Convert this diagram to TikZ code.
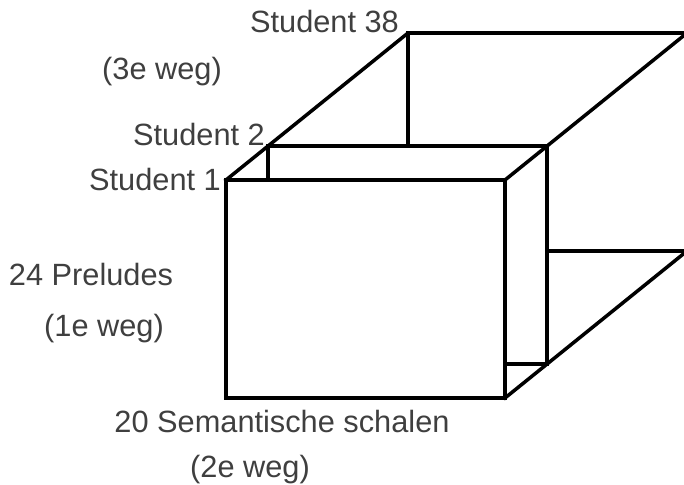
\documentclass[tikz,border=0pt]{standalone}
\usepackage{fontspec}
\setmainfont{Liberation Sans}
\usepackage{tikz}
\usetikzlibrary{positioning, calc}
\usepackage{xcolor}
\definecolor{labelgray}{HTML}{3F3F3F}

\begin{document}
\begin{tikzpicture}[
        edge/.style={line width=2pt, line join=miter, line cap=rect},
        lbl/.style={font=\fontsize{17.5}{21}\selectfont, text=labelgray, inner sep=0pt, anchor=base}
    ]

        \useasboundingbox (0,0) rectangle (13.68,9.7);
        \clip (0,0) rectangle (13.68,9.7);

        % front slice (student 1)
        \coordinate (s1_tl) at (4.52, 6.10);
        \coordinate (s1_tr) at (10.10, 6.10);
        \coordinate (s1_br) at (10.10, 1.74);
        \coordinate (s1_bl) at (4.52, 1.74);

        % second slice (student 2)
        \coordinate (s2_tl) at (5.36, 6.78);
        \coordinate (s2_tr) at (10.94, 6.78);
        \coordinate (s2_br) at (10.94, 2.42);

        % back slice (student 38)
        \coordinate (s38_tl) at (8.16, 9.04);
        \coordinate (s38_tr) at (13.74, 9.04);
        \coordinate (s38_br) at (13.74, 4.68);

        \draw[edge] (s1_tl) -- (s1_tr) -- (s1_br) -- (s1_bl) -- cycle;

        \draw[edge] (s1_tl) -- (s38_tl) -- (s38_tr);
        \draw[edge] (s1_tr) -- (s38_tr);
        \draw[edge] (s1_br) -- (s38_br);

        \draw[edge] (s2_tl) -- (s2_tr) -- (s2_br) -- (s2_br -| s1_br);
        \draw[edge] (s2_tl) -- (s2_tl |- s1_tl);
        \draw[edge] (s38_tl) -- (s38_tl |- s2_tl);
        \draw[edge] (s38_br -| s2_br) -- (s38_br);

        \node[lbl] (lbl_s38)  at (6.49, 9.04) {Student 38};
        \node[lbl] (lbl_way3) at (3.24, 8.10) {(3e weg)};
        \node[lbl] (lbl_s2)   at (3.98, 6.78) {Student 2};
        \node[lbl] (lbl_s1)   at (3.10, 5.88) {Student 1};

        \node[lbl] (lbl_prel) at (1.82, 3.98) {24 Preludes};
        \node[lbl] (lbl_way1) at (2.08, 2.96) {(1e weg)};

        \node[lbl] (lbl_sem)  at (5.64, 1.04) {20 Semantische schalen};
        \node[lbl] (lbl_way2) at (5.00, 0.14) {(2e weg)};

    \end{tikzpicture}
\end{document}
